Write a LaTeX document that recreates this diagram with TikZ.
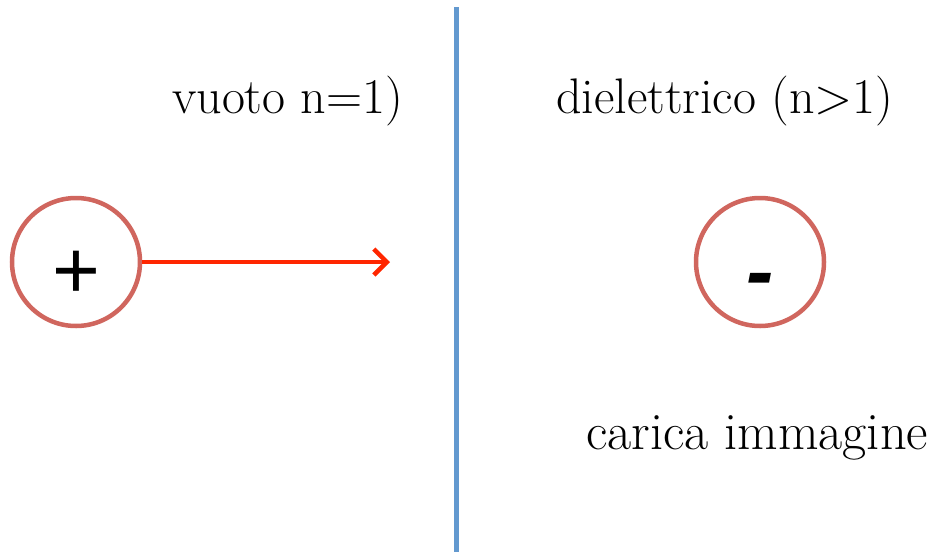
\documentclass[tikz,border=0pt]{standalone}
\usepackage{fontspec}
\newfontfamily\chargefont{Liberation Sans}
\usetikzlibrary{arrows.meta}
\definecolor{chargered}{RGB}{208,102,94}
\definecolor{interfaceblue}{RGB}{99,153,207}
\definecolor{arrowred}{RGB}{255,38,0}
\begin{document}
\begin{tikzpicture}[x=1pt,y=-1pt,
  charge/.style={circle,draw=chargered,line width=4.5pt,minimum size=128pt,inner sep=0pt},
  sign/.style={anchor=base,inner sep=0pt,font=\chargefont\fontsize{82}{82}\selectfont},
  medium/.style={anchor=base west,inner sep=0pt,font=\fontsize{50}{56}\selectfont}]
\useasboundingbox (0,0) rectangle (940,552);
% interface between the two media
\coordinate (top) at (456,7);
\coordinate (bottom) at (456,552);
\draw[interfaceblue,line width=5pt] (top) -- (bottom);
\node[medium] (vuoto) at (172,113) {vuoto n=1)};
\node[medium] (diel) at (556,113) {dielettrico (n>1)};
% real charge and its image
\node[charge] (pos) at (76,262) {};
\node[sign] (plus) at (76,298) {+};
\node[charge] (neg) at (760,262) {};
\node[sign] (minus) at (760,299) {\bfseries\itshape -};
\node[medium,font=\fontsize{52.5}{58}\selectfont] (img) at (586,449) {carica immagine};
\coordinate (tip) at (390,262);
\draw[arrowred,line width=4.5pt,-{Straight Barb[length=13pt,width=26pt]}] (pos.east) -- (tip);
\end{tikzpicture}
\end{document}
